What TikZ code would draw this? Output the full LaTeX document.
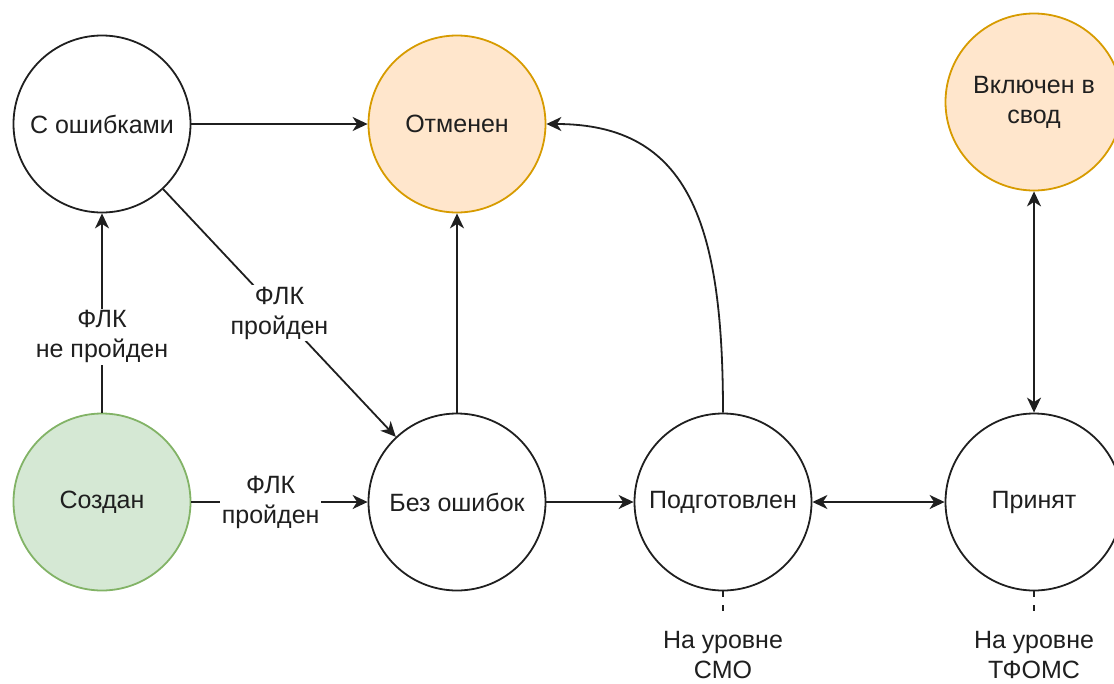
\documentclass[tikz,border=0pt]{standalone}
\usepackage{fontspec}
\setmainfont{Liberation Sans}
\usetikzlibrary{arrows.meta}
\definecolor{orfill}{HTML}{FFE6CC}
\definecolor{ordraw}{HTML}{D79B00}
\definecolor{grfill}{HTML}{D5E8D4}
\definecolor{grdraw}{HTML}{82B366}
\begin{document}
\begin{tikzpicture}[x=1pt,y=-1pt,
  txt/.style={font=\fontsize{25}{30}\selectfont, align=center, text=black!88},
  state/.style={txt, circle, draw=black!88, line width=1.8pt, minimum size=177pt, inner sep=0pt},
  cancel/.style={state, fill=orfill, draw=ordraw},
  start/.style={state, fill=grfill, draw=grdraw},
  arr/.style={line width=1.8pt, draw=black!88, -{Stealth[length=15pt,width=14pt,inset=4.5pt]}},
  darr/.style={line width=1.8pt, draw=black!88, {Stealth[length=15pt,width=14pt,inset=4.5pt]}-{Stealth[length=15pt,width=14pt,inset=4.5pt]}},
  lbl/.style={txt, fill=white, inner sep=2pt},
  dashline/.style={line width=1.8pt, draw=black!88, dash pattern=on 6pt off 8pt}
]
\useasboundingbox (0,0) rectangle (1114,683);

\node[state]  (err)  at (102,124) {С ошибками};
\node[cancel] (canc) at (457,124) {Отменен};
\node[cancel] (svod) at (1034,102) {Включен в\\свод};
\node[start]  (crt)  at (102,502) {Создан};
\node[state]  (ok)   at (457,502) {Без ошибок};
\node[state]  (prep) at (723,502) {Подготовлен};
\node[state]  (acc)  at (1034,502) {Принят};

\draw[arr] (err) -- (canc);
\draw[arr] (crt) -- node[lbl, pos=0.38] {ФЛК\\не пройден} (err);
\draw[arr] (err) -- node[lbl, pos=0.5] {ФЛК\\пройден} (ok);
\draw[arr] (crt) -- node[lbl, pos=0.45] {ФЛК\\пройден} (ok);
\draw[arr] (ok) -- (canc);
\draw[arr] (ok) -- (prep);
\draw[darr] (prep) -- (acc);
\draw[darr] (svod) -- (acc);
\draw[arr] (prep.north) .. controls (723,225) and (690,124) .. (canc.east);

\coordinate (c1) at (723,613);
\coordinate (c2) at (1034,613);
\draw[dashline] (prep.south) -- (c1);
\draw[dashline] (acc.south) -- (c2);
\node[txt] (smo) at (723,655) {На уровне\\СМО};
\node[txt] (tf) at (1034,655) {На уровне\\ТФОМС};
\end{tikzpicture}
\end{document}
